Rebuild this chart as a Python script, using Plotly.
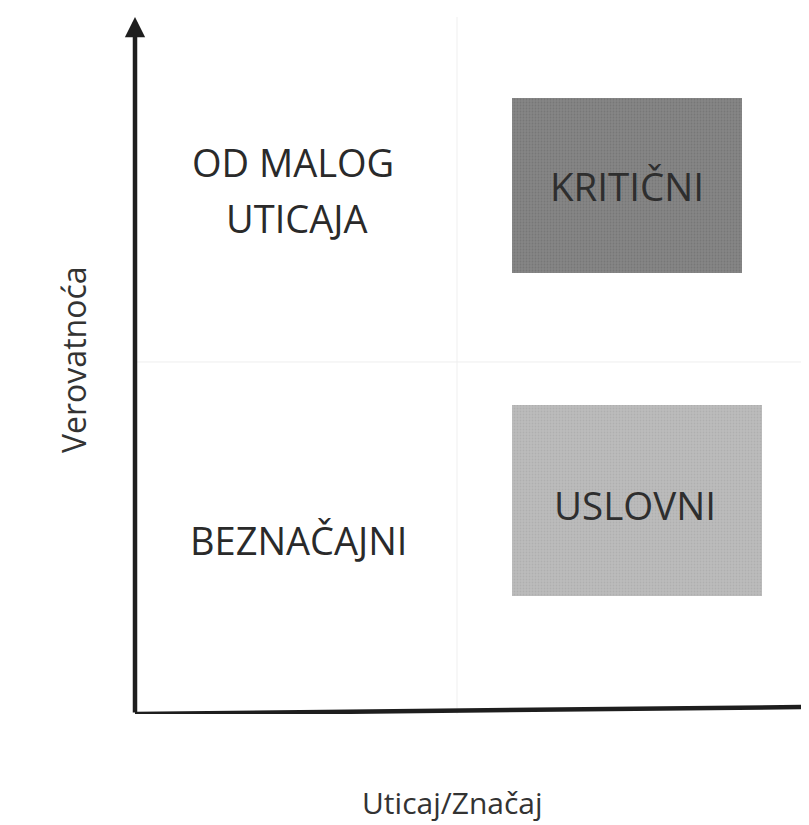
import plotly.graph_objects as go

# Quadrant labels (x, y in quadrant units; 0-1 low, 1-2 high)
plain_labels = ["OD MALOG", "UTICAJA", "BEZNAČAJNI"]
plain_x = [0.491, 0.503, 0.509]
plain_y = [1.568, 1.409, 0.494]

box_labels = ["KRITIČNI", "USLOVNI"]
box_x0 = [1.171, 1.171]
box_x1 = [1.885, 1.947]
box_y0 = [1.253, 0.335]
box_y1 = [1.750, 0.878]
box_colors = ["#858585", "#bcbcbc"]
box_label_x = [1.528, 1.553]
box_label_y = [1.500, 0.594]

x_title = "Uticaj/Značaj"
y_title = "Verovatnoća"

XMAX = 2.093
YMAX = 1.980
FONT = "Open Sans"

# page geometry (browser body has an 8px margin)
PL, PT, PW, PH = 127, 9, 674, 697

fig = go.Figure()

for i in range(2):
    fig.add_trace(go.Bar(
        x=[(box_x0[i] + box_x1[i]) / 2], width=[box_x1[i] - box_x0[i]],
        y=[box_y1[i] - box_y0[i]], base=[box_y0[i]],
        marker=dict(color=box_colors[i], line=dict(width=0),
                    pattern=dict(shape=".", fgcolor="#6a6a6a" if i == 0 else "#a2a2a2",
                                 bgcolor=box_colors[i], size=3, solidity=0.3)),
        showlegend=False, hoverinfo="skip"))

# faint quadrant divider lines
fig.add_trace(go.Scatter(x=[1, 1], y=[0, YMAX], mode="lines",
                         line=dict(color="#efefef", width=1), showlegend=False, hoverinfo="skip"))
fig.add_trace(go.Scatter(x=[0, XMAX], y=[1, 1], mode="lines",
                         line=dict(color="#efefef", width=1), showlegend=False, hoverinfo="skip"))

# x axis line (slightly tilted as in the scan)
fig.add_trace(go.Scatter(x=[0, XMAX], y=[0, 0.02], mode="lines",
                         line=dict(color="#1e1e1e", width=4.5), showlegend=False,
                         hoverinfo="skip", cliponaxis=False))

for i in range(3):
    fig.add_annotation(x=plain_x[i], y=plain_y[i], text=plain_labels[i], showarrow=False,
                       xanchor="center", yanchor="middle",
                       font=dict(family=FONT, size=38, color="#2a2a2a"))
for i in range(2):
    fig.add_annotation(x=box_label_x[i], y=box_label_y[i], text=box_labels[i],
                       showarrow=False, xanchor="center", yanchor="middle",
                       font=dict(family=FONT, size=38.5, color="#2e2e2e"))

# y axis arrow
fig.add_annotation(x=0, y=YMAX, ax=0, ay=0, xref="x", yref="y", axref="x", ayref="y",
                   text="", showarrow=True, arrowhead=2, arrowsize=0.9, arrowwidth=4.5,
                   arrowcolor="#1e1e1e")

# axis titles (page pixel positions converted to paper coords)
fig.add_annotation(xref="paper", yref="paper", x=(452 - 135) / PW, y=(714 - 802) / PH,
                   xanchor="center", yanchor="middle", text=x_title, showarrow=False,
                   borderpad=0, font=dict(family=FONT, size=30, color="#333333"))
fig.add_annotation(xref="paper", yref="paper", x=(73 - 135) / PW, y=(714 - 360) / PH,
                   xanchor="center", yanchor="middle", text=y_title, textangle=-90,
                   showarrow=False, font=dict(family=FONT, size=32, color="#333333"))

fig.update_xaxes(range=[0, XMAX], showgrid=False, zeroline=False, showticklabels=False,
                 ticks="", showline=False, automargin=False)
fig.update_yaxes(range=[0, YMAX], showgrid=False, zeroline=False, showticklabels=False,
                 ticks="", showline=False, automargin=False)

fig.update_layout(width=801, height=817, margin=dict(l=PL, r=0, t=PT, b=817 - PT - PH),
                  plot_bgcolor="white", paper_bgcolor="white", bargap=0)

fig.write_html("out.html")
